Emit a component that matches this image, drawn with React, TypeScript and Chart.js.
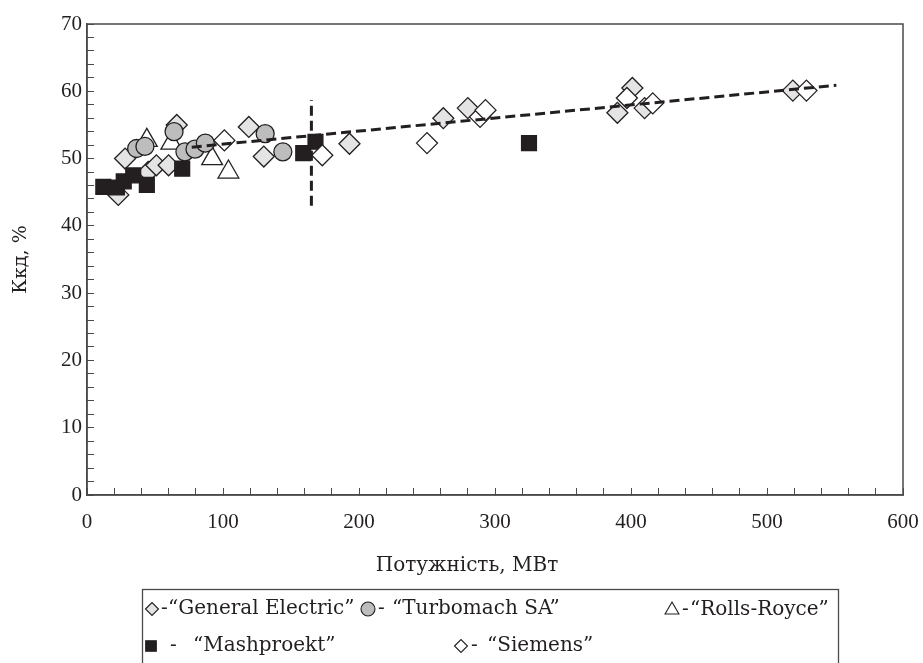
import React, { useEffect, useRef } from "react";
import { Chart, registerables } from "chart.js";
import { drawPoint } from "chart.js/helpers";

Chart.register(...registerables);

// ---- data (MW, %) ----
const geX = [23, 28, 45, 51, 60, 66, 119, 130, 193, 262, 280, 390, 401, 410, 519];
const geY = [44.6, 50, 48, 49, 49, 55, 54.7, 50.3, 52.2, 56, 57.5, 56.8, 60.5, 57.5, 60.1];

const tmX = [36.5, 42.6, 64, 72, 79.4, 87, 131, 144];
const tmY = [51.5, 51.8, 54, 51, 51.4, 52.3, 53.7, 51];

const rrX = [44, 62, 92, 104];
const rrY = [52.7, 52.3, 50, 48];

const mpX = [12, 22, 27, 34, 44, 70, 159, 168, 325];
const mpY = [45.8, 45.7, 46.6, 47.5, 46.1, 48.5, 50.8, 52.5, 52.3];

const siX = [101, 173, 250, 289, 293, 397, 416, 529];
const siY = [52.7, 50.5, 52.3, 56.2, 57.2, 59, 58.2, 60.1];

const trendX = [77, 551];
const trendY = [51.7, 60.9];

const splitX = [165, 165];
const splitY = [43, 58.7];

const xTickLabels = ["0", "100", "200", "300", "400", "500", "600"];
const yTickLabels = ["0", "10", "20", "30", "40", "50", "60", "70"];

const seriesNames = [
  "\u201CGeneral Electric\u201D",
  "\u201CTurbomach SA\u201D",
  "\u201CRolls-Royce\u201D",
  "\u201CMashproekt\u201D",
  "\u201CSiemens\u201D",
];

const xTitle = "Потужність, МВт";
const yTitle = "Ккд, %";

const zip = (xs: number[], ys: number[]) => xs.map((x, i) => ({ x, y: ys[i] }));

const INK = "#231f20";
const AXIS = "#4a4a4a";
const TICK_FONT = "'Liberation Serif', serif";
const TEXT_FONT = "'DejaVu Serif', serif";

const styles = {
  ge: { pointStyle: "rectRot", radius: 10.5, bg: "#e4e4e4" },
  tm: { pointStyle: "circle", radius: 9, bg: "#bdbdbd" },
  rr: { pointStyle: "triangle", radius: 12, bg: "#ffffff" },
  mp: { pointStyle: "rect", radius: 10.5, bg: INK },
  si: { pointStyle: "rectRot", radius: 10.5, bg: "#ffffff" },
};

const scatterDs = (label: string, xs: number[], ys: number[], st: any) => ({
  type: "scatter" as const,
  label,
  data: zip(xs, ys),
  showLine: false,
  pointStyle: st.pointStyle,
  pointRadius: st.radius,
  pointHoverRadius: st.radius,
  pointBackgroundColor: st.bg,
  pointBorderColor: INK,
  pointBorderWidth: 1.3,
});

const lineDs = (label: string, xs: number[], ys: number[]) => ({
  type: "line" as const,
  label,
  data: zip(xs, ys),
  borderColor: INK,
  borderWidth: 3,
  borderDash: [10, 5],
  pointRadius: 0,
  fill: false,
  tension: 0,
});

const framePlugin = {
  id: "frameAndLegend",
  afterDraw(chart: any) {
    const { ctx, chartArea } = chart;
    ctx.save();
    ctx.strokeStyle = AXIS;
    ctx.lineWidth = 1.5;
    ctx.strokeRect(chartArea.left, chartArea.top, chartArea.right - chartArea.left, chartArea.bottom - chartArea.top);

    // x-axis title
    ctx.font = `20px ${TEXT_FONT}`;
    ctx.fillStyle = INK;
    ctx.textAlign = "center";
    ctx.textBaseline = "middle";
    ctx.fillText(xTitle, 467, 566);

    // legend box
    ctx.strokeStyle = AXIS;
    ctx.lineWidth = 1.3;
    ctx.strokeRect(142.5, 589.5, 696, 90);

    ctx.textAlign = "left";
    const items = [
      { st: styles.ge, r: 6.5, x: 152, y: 609, dash: 9, text: 16, name: seriesNames[0] },
      { st: styles.tm, r: 7, x: 368, y: 609, dash: 10, text: 24, name: seriesNames[1] },
      { st: styles.rr, r: 8, x: 672, y: 610, dash: 10, text: 18, name: seriesNames[2] },
      { st: styles.mp, r: 7.5, x: 151, y: 646, dash: 19, text: 42, name: seriesNames[3] },
      { st: styles.si, r: 6.5, x: 461, y: 646, dash: 10, text: 26, name: seriesNames[4] },
    ];
    items.forEach((it) => {
      ctx.fillStyle = it.st.bg;
      ctx.strokeStyle = INK;
      ctx.lineWidth = 1.1;
      drawPoint(ctx, { pointStyle: it.st.pointStyle, radius: it.r, rotation: 0, borderWidth: 1.1 } as any, it.x, it.y);
      ctx.fillStyle = INK;
      ctx.fillText("-", it.x + it.dash, it.y);
      ctx.fillText(it.name, it.x + it.text, it.y);
    });
    ctx.restore();
  },
};

export default function App() {
  const ref = useRef<HTMLCanvasElement | null>(null);
  useEffect(() => {
    document.body.style.margin = "0";
    const canvas = ref.current!;
    const chart = new Chart(canvas, {
      type: "scatter",
      data: {
        datasets: [
          lineDs("trend", trendX, trendY),
          lineDs("split", splitX, splitY),
          scatterDs(seriesNames[4], siX, siY, styles.si),
          scatterDs(seriesNames[3], mpX, mpY, styles.mp),
          scatterDs(seriesNames[1], tmX, tmY, styles.tm),
          scatterDs(seriesNames[2], rrX, rrY, styles.rr),
          scatterDs(seriesNames[0], geX, geY, styles.ge),
        ] as any,
      },
      options: {
        responsive: false,
        animation: false,
        devicePixelRatio: 1,
        layout: { padding: { top: 24, right: 20, bottom: 0, left: 0 } },
        plugins: { legend: { display: false }, tooltip: { enabled: false } },
        scales: {
          x: {
            type: "linear",
            min: 0,
            max: 600,
            afterFit: (s: any) => {
              s.height = 168;
              s.paddingLeft = 0;
              s.paddingRight = 0;
            },
            ticks: {
              stepSize: 20,
              autoSkip: false,
              maxRotation: 0,
              padding: 22,
              color: INK,
              font: { family: TICK_FONT, size: 21 },
              callback: (v: any) => (v % 100 === 0 ? xTickLabels[v / 100] : ""),
            },
            grid: { drawOnChartArea: false, drawTicks: true, tickLength: -7, color: AXIS, lineWidth: 1 },
            border: { display: true, color: AXIS, width: 1.5 },
          },
          y: {
            type: "linear",
            min: 0,
            max: 70,
            afterFit: (s: any) => {
              s.width = 87;
              s.paddingTop = 0;
              s.paddingBottom = 0;
            },
            ticks: {
              stepSize: 2,
              autoSkip: false,
              padding: 12,
              color: INK,
              font: { family: TICK_FONT, size: 21 },
              callback: (v: any) => (v % 10 === 0 ? yTickLabels[v / 10] : ""),
            },
            grid: { drawOnChartArea: false, drawTicks: true, tickLength: -7, color: AXIS, lineWidth: 1 },
            border: { display: true, color: AXIS, width: 1.5 },
            title: {
              display: true,
              text: yTitle,
              color: INK,
              font: { family: TEXT_FONT, size: 19 },
              padding: { top: 10, bottom: 0 },
            },
          },
        },
      },
      plugins: [framePlugin],
    } as any);
    return () => chart.destroy();
  }, []);
  return (
    <div style={{ width: 923, height: 663, position: "relative", background: "#fff" }}>
      <canvas ref={ref} width={923} height={663} />
    </div>
  );
}
